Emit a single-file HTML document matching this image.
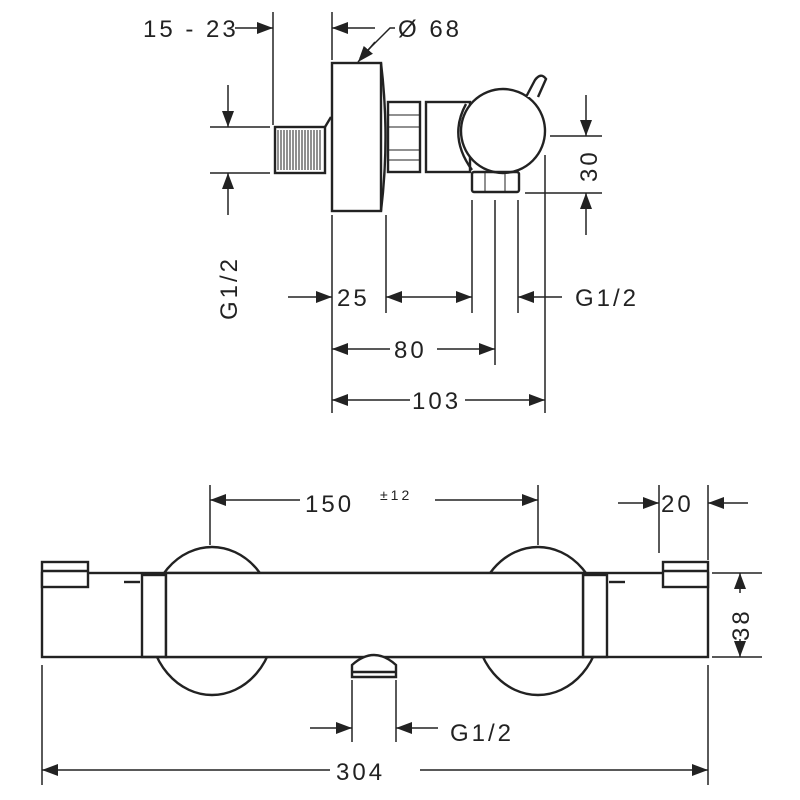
<!DOCTYPE html>
<html><head><meta charset="utf-8"><style>
html,body{margin:0;padding:0;background:#fff;}
svg{display:block}
text{font-family:"Liberation Sans","DejaVu Sans",sans-serif;font-size:24px;fill:#222;letter-spacing:3px}
</style></head><body>
<svg width="800" height="800" viewBox="0 0 800 800" xmlns="http://www.w3.org/2000/svg">
<defs>
<marker id="a" viewBox="0 0 16 12" refX="16" refY="6" markerWidth="16" markerHeight="12" markerUnits="userSpaceOnUse" orient="auto-start-reverse"><path d="M0,0L16,6L0,12z" fill="#222"/></marker>
</defs>
<g stroke="#222" stroke-width="1.5" fill="none">
<line x1="273" y1="12" x2="273" y2="125"/>
<line x1="332" y1="12" x2="332" y2="60"/>
<line x1="332" y1="215" x2="332" y2="413"/>
<line x1="386" y1="215" x2="386" y2="313"/>
<line x1="472" y1="200" x2="472" y2="313"/>
<line x1="495" y1="200" x2="495" y2="365"/>
<line x1="518" y1="200" x2="518" y2="313"/>
<line x1="545" y1="155" x2="545" y2="413"/>
<line x1="210" y1="127" x2="270" y2="127"/>
<line x1="210" y1="173" x2="270" y2="173"/>
<line x1="550" y1="136" x2="602" y2="136"/>
<line x1="525" y1="193" x2="602" y2="193"/>
<line x1="235" y1="28" x2="273" y2="28" marker-end="url(#a)"/>
<line x1="375" y1="28" x2="332" y2="28" marker-end="url(#a)"/>
<polyline points="395,28 390,28 360,58"/>
<line x1="375" y1="42" x2="358" y2="62" marker-end="url(#a)"/>
<line x1="228" y1="85" x2="228" y2="127" marker-end="url(#a)"/>
<line x1="228" y1="215" x2="228" y2="173" marker-end="url(#a)"/>
<line x1="586" y1="95" x2="586" y2="136" marker-end="url(#a)"/>
<line x1="586" y1="235" x2="586" y2="193" marker-end="url(#a)"/>
<line x1="288" y1="297" x2="332" y2="297" marker-end="url(#a)"/>
<line x1="386" y1="297" x2="472" y2="297" marker-start="url(#a)" marker-end="url(#a)"/>
<line x1="562" y1="297" x2="518" y2="297" marker-end="url(#a)"/>
<line x1="332" y1="349" x2="390" y2="349" marker-start="url(#a)"/>
<line x1="437" y1="349" x2="495" y2="349" marker-end="url(#a)"/>
<line x1="332" y1="400" x2="410" y2="400" marker-start="url(#a)"/>
<line x1="465" y1="400" x2="545" y2="400" marker-end="url(#a)"/>
<g stroke-width="2.4">
<rect x="332" y="63" width="49" height="148"/>
<path d="M381,63 Q390,137 381,211"/>
<rect x="275" y="127" width="50" height="46"/>
<line x1="325" y1="127" x2="331" y2="117"/>
<rect x="388" y="102" width="32" height="70"/>
<rect x="426" y="102" width="44" height="70"/>
<path d="M466,104 Q448,137 472,170"/>
<circle cx="503" cy="131" r="42" fill="#fff"/>
<path d="M526,97 L535,80 Q541,72 546,79 L538,97" fill="#fff"/>
<rect x="472" y="172" width="47" height="20" rx="2"/>
</g>
<g stroke-width="1">
<line x1="389" y1="115" x2="419" y2="115"/><line x1="389" y1="127" x2="419" y2="127"/>
<line x1="389" y1="150" x2="419" y2="150"/><line x1="389" y1="160" x2="419" y2="160"/>
<line x1="485" y1="173" x2="485" y2="191"/><line x1="505" y1="173" x2="505" y2="191"/>
</g>
<path d="M278,130 V170 M281,130 V170 M284,130 V170 M287,130 V170 M290,130 V170 M293,130 V170 M296,130 V170 M299,130 V170 M302,130 V170 M305,130 V170 M308,130 V170 M311,130 V170 M314,130 V170 M317,130 V170 M320,130 V170" stroke-width="1"/>

<line x1="210" y1="485" x2="210" y2="545"/>
<line x1="538" y1="485" x2="538" y2="545"/>
<line x1="659" y1="485" x2="659" y2="553"/>
<line x1="708" y1="485" x2="708" y2="560"/>
<line x1="712" y1="573" x2="762" y2="573"/>
<line x1="712" y1="657" x2="762" y2="657"/>
<line x1="42" y1="665" x2="42" y2="785"/>
<line x1="708" y1="665" x2="708" y2="785"/>
<line x1="352" y1="680" x2="352" y2="742"/>
<line x1="396" y1="680" x2="396" y2="742"/>
<line x1="210" y1="500" x2="300" y2="500" marker-start="url(#a)"/>
<line x1="435" y1="500" x2="538" y2="500" marker-end="url(#a)"/>
<line x1="618" y1="503" x2="659" y2="503" marker-end="url(#a)"/>
<line x1="748" y1="503" x2="708" y2="503" marker-end="url(#a)"/>
<line x1="740" y1="573" x2="740" y2="657" marker-start="url(#a)" marker-end="url(#a)"/>
<line x1="42" y1="770" x2="330" y2="770" marker-start="url(#a)"/>
<line x1="420" y1="770" x2="708" y2="770" marker-end="url(#a)"/>
<line x1="310" y1="728" x2="352" y2="728" marker-end="url(#a)"/>
<line x1="438" y1="728" x2="396" y2="728" marker-end="url(#a)"/>
<g stroke-width="2.4">
<ellipse cx="212" cy="621" rx="63" ry="74"/>
<ellipse cx="538" cy="621" rx="63" ry="74"/>
<rect x="42" y="573" width="666" height="84" fill="#fff"/>
<rect x="142" y="575" width="24" height="82"/>
<rect x="583" y="575" width="24" height="82"/>
<rect x="166" y="573" width="417" height="84" fill="#fff"/>
<rect x="42" y="562" width="46" height="25" fill="#fff"/>
<line x1="42" y1="571" x2="88" y2="571"/>
<rect x="663" y="562" width="45" height="25" fill="#fff"/>
<line x1="663" y1="571" x2="708" y2="571"/>
<line x1="124" y1="582" x2="140" y2="582"/>
<line x1="609" y1="582" x2="625" y2="582"/>
<path d="M352,677 V665 Q374,645 396,665 V677 Z" fill="#fff"/>
<line x1="353" y1="672" x2="395" y2="672"/>
</g>
</g>
<rect x="731" y="593" width="20" height="46" fill="#fff"/>
<g>
<text x="143" y="37">15 - 23</text>
<text x="398" y="37">Ø 68</text>
<text x="337" y="306">25</text>
<text x="575" y="306">G1/2</text>
<text x="394" y="358">80</text>
<text x="412" y="409">103</text>
<text transform="translate(237,320) rotate(-90)">G1/2</text>
<text transform="translate(597,182) rotate(-90)">30</text>
<text x="305" y="512">150</text>
<text x="380" y="500" style="font-size:14px">±12</text>
<text x="661" y="512">20</text>
<text transform="translate(749,641) rotate(-90)">38</text>
<text x="450" y="741">G1/2</text>
<text x="336" y="780">304</text>
</g>
</svg>
</body></html>
